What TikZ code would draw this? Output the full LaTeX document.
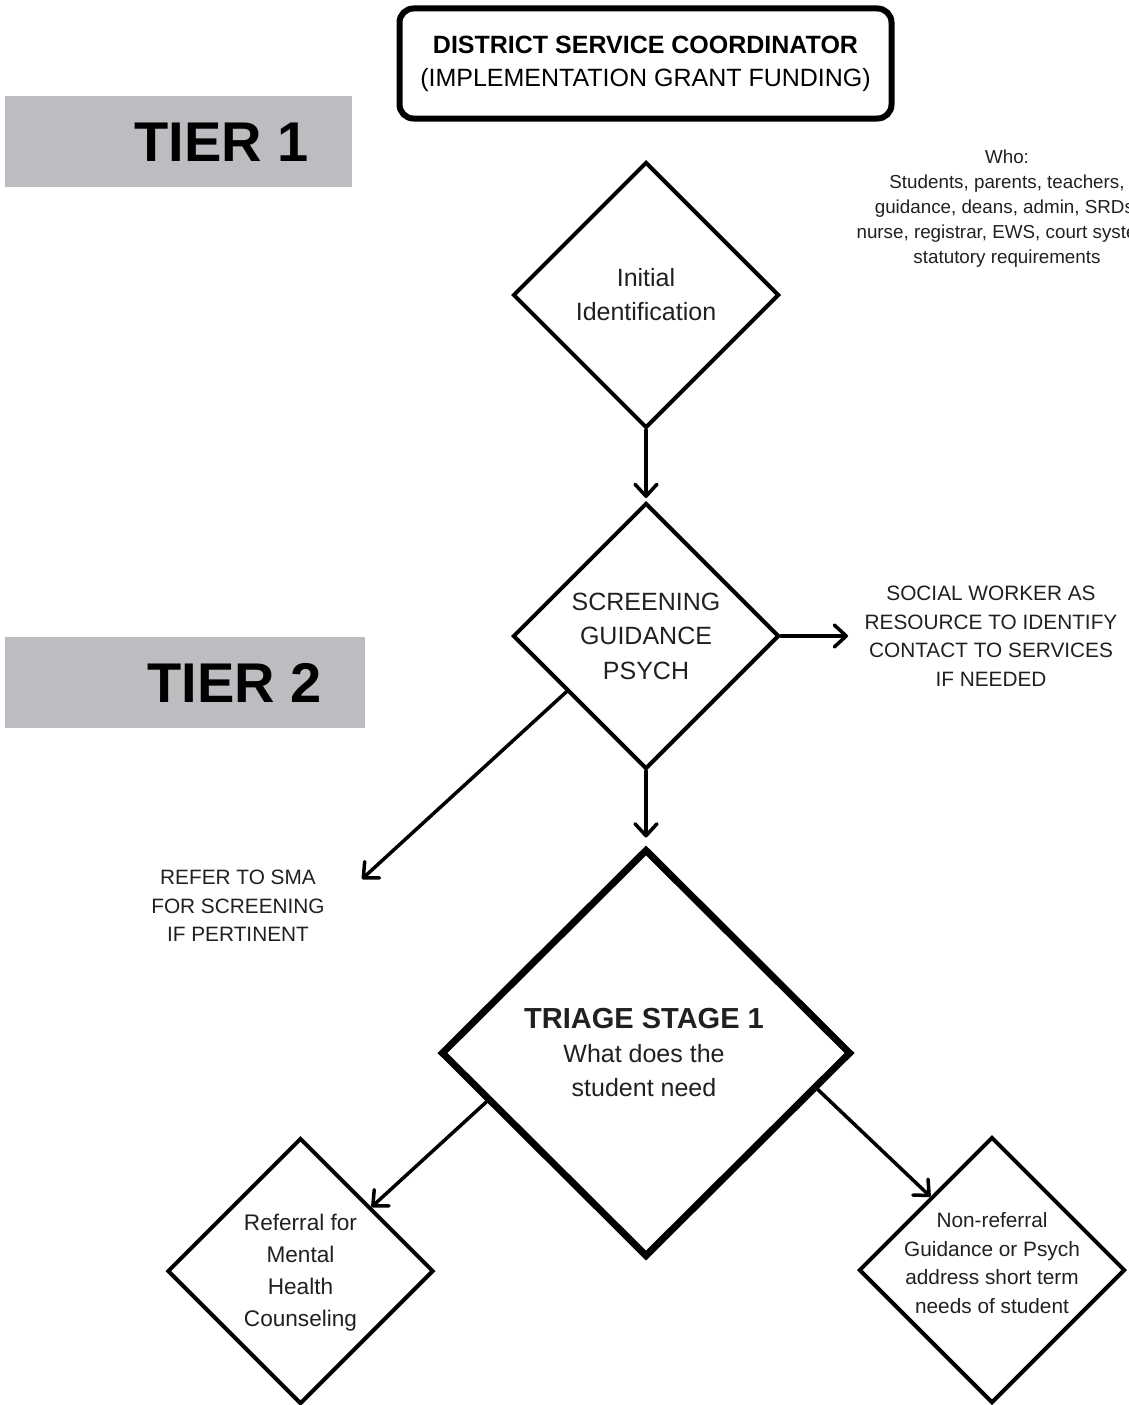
\documentclass[tikz,border=0pt]{standalone}
\usepackage{fontspec}
\setmainfont{Liberation Sans}
\usetikzlibrary{shapes.geometric,arrows.meta}
\definecolor{tiergray}{HTML}{BCBDC0}
\definecolor{txt}{HTML}{202020}
\begin{document}
\begin{tikzpicture}[x=1pt,y=-1pt,
  dia/.style={diamond, draw=black, aspect=1, inner sep=0pt, line width=4pt, miter limit=10},
  conn/.style={line width=3.5pt, line cap=round, -{Straight Barb[length=12pt,width=22pt,line cap=round,line join=round]}},
  lbl/.style={align=center, text=txt, inner sep=0pt},
  tierbox/.style={fill=tiergray, inner sep=0pt, anchor=north west},
  tiertext/.style={font=\bfseries\fontsize{56}{60}\selectfont, text=black, inner sep=0pt}
]
\useasboundingbox (0,0) rectangle (1128,1405);

% top box
\node[draw=black, line width=6pt, rounded corners=14pt, minimum width=492pt, minimum height=110pt,
      align=center, inner sep=0pt, font=\fontsize{25}{33}\selectfont] (dsc) at (645.5,63.5)
  {{\bfseries DISTRICT SERVICE COORDINATOR}\\(IMPLEMENTATION GRANT FUNDING)};

% tier bands
\node[tierbox, minimum width=347pt, minimum height=91pt] (tier1) at (5,96) {};
\node[tiertext] (tier1t) at (221.5,142) {TIER 1};
\node[tierbox, minimum width=360pt, minimum height=91pt] (tier2) at (5,637) {};
\node[tiertext] (tier2t) at (234.5,683) {TIER 2};

% who text (cut at the right edge, as in the reference)
\begin{scope}
\clip (0,0) rectangle (1128,1405);
\node[lbl, font=\fontsize{18.8}{25}\selectfont] (who) at (1007,209)
  {Who:\\Students, parents, teachers,\\guidance, deans, admin, SRDs,\\nurse, registrar, EWS, court system,\\statutory requirements};
\end{scope}

% diamonds
\node[dia, minimum width=266pt, minimum height=266pt] (d1) at (646,295) {};
\node[lbl, font=\fontsize{25}{34}\selectfont] (d1t) at (646,295) {Initial\\Identification};

\node[dia, minimum width=266pt, minimum height=266pt] (d2) at (646,636) {};
\node[lbl, font=\fontsize{25}{34.5}\selectfont] (d2t) at (646,636) {SCREENING\\GUIDANCE\\PSYCH};

\node[dia, line width=7pt, minimum width=410pt, minimum height=408pt] (tri) at (646,1053) {};
\node[lbl, font=\fontsize{25}{34}\selectfont] (trit) at (644,1052)
  {{\bfseries\fontsize{29}{34}\selectfont TRIAGE STAGE 1}\\What does the\\student need};

\node[dia, minimum width=266pt, minimum height=266pt] (ref) at (300.5,1271) {};
\node[lbl, font=\fontsize{22.6}{32}\selectfont] (reft) at (300.5,1273) {Referral for\\Mental\\Health\\Counseling};

\node[dia, minimum width=266pt, minimum height=266pt] (non) at (992,1270) {};
\node[lbl, font=\fontsize{20.8}{28.5}\selectfont] (nont) at (992,1263) {Non-referral\\Guidance or Psych\\address short term\\needs of student};

% side texts
\node[lbl, font=\fontsize{20.8}{28.5}\selectfont] (sw) at (991,636)
  {SOCIAL WORKER AS\\RESOURCE TO IDENTIFY\\CONTACT TO SERVICES\\IF NEEDED};
\node[lbl, font=\fontsize{20.8}{28.5}\selectfont] (sma) at (238,906)
  {REFER TO SMA\\FOR SCREENING\\IF PERTINENT};

\coordinate (swtip) at (848,636);
\coordinate (smatip) at (362,879);

% connectors
\draw[conn, shorten >=3pt] (d1.south) -- (d2.north);
\draw[conn] (d2.east) -- (swtip);
\draw[conn] (d2.215) -- (smatip);
\draw[conn, shorten >=8pt] (d2.south) -- (tri.north);
\draw[conn] (tri.197.6) -- (ref.42);
\draw[conn] (tri.348) -- (non.130);
\end{tikzpicture}
\end{document}
